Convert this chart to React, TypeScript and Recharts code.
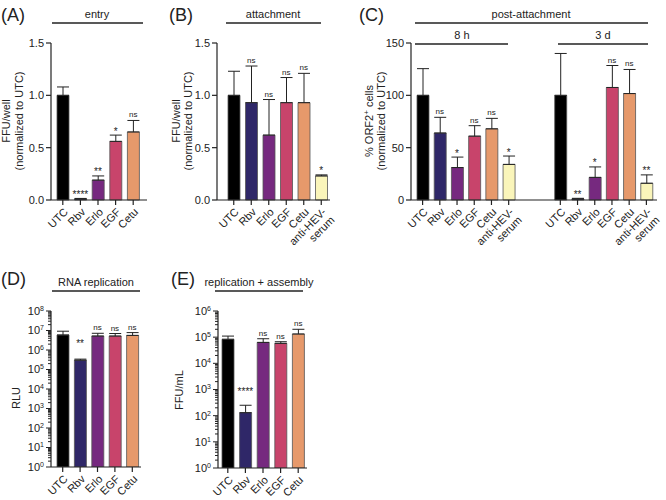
import React from 'react';
import {
  ComposedChart,
  Bar,
  Line,
  XAxis,
  YAxis,
  ErrorBar,
  Cell,
  LabelList
} from 'recharts';

const FONT = '"Liberation Sans", Arial, Helvetica, sans-serif';
const INK = '#222222';

const barColors: Record<string, string> = {
  UTC: '#000000',
  Rbv: '#2f2768',
  Erlo: '#76297f',
  EGF: '#c8446b',
  Cetu: '#e6996b',
  anti: '#faf5ba'
};

// (A) entry
const entryCats = ['UTC', 'Rbv', 'Erlo', 'EGF', 'Cetu'];
const entryMean = [1.0, 0.01, 0.19, 0.56, 0.65];
const entryErr = [0.08, 0.005, 0.04, 0.06, 0.11];
const entrySig = ['', '****', '**', '*', 'ns'];

// (B) attachment
const attCats = ['UTC', 'Rbv', 'Erlo', 'EGF', 'Cetu', 'anti-HEV-\nserum'];
const attMean = [1.0, 0.93, 0.62, 0.93, 0.93, 0.23];
const attErr = [0.23, 0.35, 0.34, 0.24, 0.28, 0.01];
const attSig = ['', 'ns', 'ns', 'ns', 'ns', '*'];

// (C) post-attachment, 8 h and 3 d
const postCats = ['UTC', 'Rbv', 'Erlo', 'EGF', 'Cetu', 'anti-HEV-\nserum'];
const post8hMean = [100, 64, 31, 61, 68, 34];
const post8hErr = [25.5, 15, 10, 10, 10, 8];
const post8hSig = ['', 'ns', '*', 'ns', 'ns', '*'];
const post3dMean = [100, 1, 21.6, 107.5, 101.7, 16];
const post3dErr = [40, 0.6, 10, 21, 23, 8];
const post3dSig = ['', '**', '*', 'ns', 'ns', '**'];

// (D) RNA replication
const replCats = ['UTC', 'Rbv', 'Erlo', 'EGF', 'Cetu'];
const replMean = [5.9e6, 3.0e5, 5.2e6, 5.2e6, 5.6e6];
const replErr = [3.3e6, 0.4e5, 2.0e6, 1.8e6, 2.2e6];
const replSig = ['', '**', 'ns', 'ns', 'ns'];

// (E) replication + assembly
const asmCats = ['UTC', 'Rbv', 'Erlo', 'EGF', 'Cetu'];
const asmMean = [8.3e4, 130, 6.3e4, 5.8e4, 1.32e5];
const asmErr = [2.7e4, 120, 2.4e4, 0.9e4, 0.68e5];
const asmSig = ['', '****', 'ns', 'ns', 'ns'];

type Row = {
  key: string;
  label: string;
  mean: number | null;
  err: [number, number] | null;
  top: number | null;
  sig: string;
  color: string;
};

const colorOf = (c: string) => barColors[c.startsWith('anti') ? 'anti' : c] || '#888';

function makeRows(prefix: string, cats: string[], mean: number[], err: number[], sig: string[]): Row[] {
  return cats.map((c, i) => ({
    key: `${prefix}-${i}`,
    label: c,
    mean: mean[i],
    err: [0, err[i]],
    top: mean[i] + err[i],
    sig: sig[i],
    color: colorOf(c)
  }));
}

const gapRow = (k: string): Row => ({ key: k, label: '', mean: null, err: null, top: null, sig: '', color: '#fff' });

const rowsA = makeRows('a', entryCats, entryMean, entryErr, entrySig);
const rowsB = makeRows('b', attCats, attMean, attErr, attSig);
const rowsC = [
  ...makeRows('c8', postCats, post8hMean, post8hErr, post8hSig),
  gapRow('gap1'),
  gapRow('gap2'),
  ...makeRows('c3', postCats, post3dMean, post3dErr, post3dSig)
];
const rowsD = makeRows('d', replCats, replMean, replErr, replSig);
const rowsE = makeRows('e', asmCats, asmMean, asmErr, asmSig);

const logTicks = (maxExp: number) => {
  const t: number[] = [];
  for (let e = 0; e < maxExp; e++) {
    for (let m = 1; m < 10; m++) t.push(m * Math.pow(10, e));
  }
  t.push(Math.pow(10, maxExp));
  return t;
};

const CatTick = (props: any) => {
  const { x, y, payload, rows } = props;
  const row: Row | undefined = rows[payload.index] || rows.find((r: Row) => r.key === payload.value);
  if (!row || !row.label) return null;
  const ay = y - 7;
  const lines = row.label.split('\n');
  const ax = x + 3;
  const ty = y + 3;
  return (
    <g>
      <line x1={x} x2={x} y1={ay} y2={ay + 5} stroke={INK} strokeWidth={1.2} />
      <text
        transform={`rotate(-45 ${ax} ${ty})`}
        x={ax}
        y={ty}
        textAnchor="end"
        fontSize={11}
        fontFamily={FONT}
        fill={INK}
      >
        {lines.map((l: string, i: number) => (
          <tspan key={i} x={ax} dy={i === 0 ? '0.35em' : '1.05em'}>
            {l}
          </tspan>
        ))}
      </text>
    </g>
  );
};

const LogTick = (props: any) => {
  const { x, y, payload } = props;
  const v = payload.value as number;
  const lg = Math.log10(v);
  const e = Math.round(lg);
  const major = Math.abs(lg - e) < 1e-6;
  const ax = x + 7;
  return (
    <g>
      <line x1={ax - (major ? 5 : 3)} x2={ax} y1={y} y2={y} stroke={INK} strokeWidth={1} />
      {major && (
        <text x={x} y={y} dy="0.35em" textAnchor="end" fontSize={11} fontFamily={FONT} fill={INK}>
          10
          <tspan dy={-4} fontSize={7}>
            {e}
          </tspan>
        </text>
      )}
    </g>
  );
};

// stars sit a little higher on the log panels
const makeSigLabel = (starLift: number) => (props: any) => {
  const { x, y, value } = props;
  if (!value || x == null || y == null || isNaN(y)) return null;
  const ns = value === 'ns';
  return (
    <text
      x={x}
      y={ns ? y - 3 : y - 0.5 - starLift}
      textAnchor="middle"
      fontSize={ns ? 8 : 10}
      fontFamily={FONT}
      fill={INK}
    >
      {value}
    </text>
  );
};

type PanelProps = {
  rows: Row[];
  left: number;
  top: number;
  width: number;
  height: number;
  marginTop: number;
  marginRight: number;
  yWidth: number;
  xHeight: number;
  pad: { left: number; right: number };
  domain: [number, number];
  ticks: number[];
  log?: boolean;
  starLift?: number;
};

const BarPanel: React.FC<PanelProps> = ({
  rows, left, top, width, height, marginTop, marginRight, yWidth, xHeight, pad, domain, ticks, log, starLift = 0
}) => (
  <div style={{ position: 'absolute', left, top, width, height }}>
    <ComposedChart
      width={width}
      height={height}
      data={rows}
      margin={{ top: marginTop, right: marginRight, bottom: 0, left: 0 }}
    >
      <XAxis
        dataKey="key"
        type="category"
        interval={0}
        height={xHeight}
        padding={pad}
        tickSize={5}
        tickMargin={2}
        tickLine={false}
        axisLine={{ stroke: INK, strokeWidth: 1.2 }}
        tick={<CatTick rows={rows} />}
      />
      {log ? (
        <YAxis
          scale="log"
          type="number"
          domain={domain}
          ticks={ticks}
          interval={0}
          allowDataOverflow
          width={yWidth}
          tickSize={5}
          tickMargin={2}
          tickLine={false}
          axisLine={{ stroke: INK, strokeWidth: 1.2 }}
          tick={<LogTick />}
        />
      ) : (
        <YAxis
          type="number"
          domain={domain}
          ticks={ticks}
          interval={0}
          width={yWidth}
          tickSize={5}
          tickMargin={2}
          tickLine={{ stroke: INK, strokeWidth: 1.2 }}
          axisLine={{ stroke: INK, strokeWidth: 1.2 }}
          tick={{ fontSize: 11, fill: INK, fontFamily: FONT }}
          tickFormatter={(v: number) => (domain[1] < 10 ? v.toFixed(1) : String(v))}
        />
      )}
      <Bar dataKey="mean" barSize={12} stroke="#555" strokeWidth={0.8} isAnimationActive={false}>
        {rows.map((r) => (
          <Cell key={r.key} fill={r.color} />
        ))}
        <ErrorBar dataKey="err" width={6} stroke={INK} strokeWidth={1} direction="y" />
      </Bar>
      <Line
        dataKey="top"
        stroke="none"
        dot={false}
        activeDot={false}
        isAnimationActive={false}
        legendType="none"
      >
        <LabelList dataKey="sig" content={makeSigLabel(starLift)} />
      </Line>
    </ComposedChart>
  </div>
);

const Title: React.FC<{ cx: number; y: number; x1: number; x2: number; ly: number; text: string }> = ({
  cx, y, x1, x2, ly, text
}) => (
  <g>
    <text x={cx} y={y} textAnchor="middle" fontSize={11} fontFamily={FONT} fill={INK}>
      {text}
    </text>
    <line x1={x1} x2={x2} y1={ly} y2={ly} stroke={INK} strokeWidth={1.3} />
  </g>
);

const VLabel: React.FC<{ x: number; y: number; children: React.ReactNode }> = ({ x, y, children }) => (
  <text
    x={x}
    y={y}
    transform={`rotate(-90 ${x} ${y})`}
    textAnchor="middle"
    fontSize={11}
    fontFamily={FONT}
    fill={INK}
  >
    {children}
  </text>
);

const Letter: React.FC<{ x: number; y: number; t: string }> = ({ x, y, t }) => (
  <text x={x} y={y} fontSize={18} fontFamily={FONT} fill={INK}>
    {t}
  </text>
);

export default function App() {
  return (
    <div
      style={{
        position: 'absolute',
        left: 0,
        top: 0,
        width: 666,
        height: 500,
        background: '#ffffff',
        overflow: 'hidden',
        fontFamily: FONT
      }}
    >
      <BarPanel
        rows={rowsA}
        left={0}
        top={0}
        width={160}
        height={265}
        marginTop={43}
        marginRight={13}
        yWidth={51}
        xHeight={65}
        pad={{ left: 3, right: 5 }}
        domain={[0, 1.5]}
        ticks={[0, 0.5, 1.0, 1.5]}
      />
      <BarPanel
        rows={rowsB}
        left={150}
        top={0}
        width={190}
        height={265}
        marginTop={43}
        marginRight={10}
        yWidth={67}
        xHeight={65}
        pad={{ left: 8, right: 0 }}
        domain={[0, 1.5]}
        ticks={[0, 0.5, 1.0, 1.5]}
      />
      <BarPanel
        rows={rowsC}
        left={340}
        top={0}
        width={326}
        height={265}
        marginTop={43}
        marginRight={9}
        yWidth={71}
        xHeight={65}
        pad={{ left: 3, right: 2 }}
        domain={[0, 150]}
        ticks={[0, 50, 100, 150]}
      />
      <BarPanel
        rows={rowsD}
        left={0}
        top={290}
        width={160}
        height={210}
        marginTop={21}
        marginRight={19}
        yWidth={51}
        xHeight={33}
        pad={{ left: 3, right: 0 }}
        domain={[1, 1e8]}
        ticks={logTicks(8)}
        log
        starLift={12}
      />
      <BarPanel
        rows={rowsE}
        left={150}
        top={290}
        width={170}
        height={210}
        marginTop={21}
        marginRight={13}
        yWidth={68}
        xHeight={32}
        pad={{ left: 1, right: 0 }}
        domain={[1, 1e6]}
        ticks={logTicks(6)}
        log
        starLift={10}
      />
      <svg
        width={666}
        height={500}
        style={{ position: 'absolute', left: 0, top: 0, pointerEvents: 'none' }}
      >
        <Letter x={1} y={21} t="(A)" />
        <Letter x={169} y={21} t="(B)" />
        <Letter x={359} y={21} t="(C)" />
        <Letter x={1} y={285} t="(D)" />
        <Letter x={171} y={285} t="(E)" />

        <Title cx={97} y={18} x1={52} x2={143} ly={23} text="entry" />
        <Title cx={273} y={18} x1={226} x2={321} ly={23} text="attachment" />
        <Title cx={531} y={18} x1={415} x2={648} ly={23} text="post-attachment" />
        <Title cx={462} y={39} x1={415} x2={508} ly={44} text="8 h" />
        <Title cx={603} y={39} x1={558} x2={648} ly={44} text="3 d" />
        <Title cx={96} y={286} x1={52} x2={140} ly={291} text="RNA replication" />
        <Title cx={259} y={286} x1={215} x2={303} ly={291} text="replication + assembly" />

        <VLabel x={10} y={121}>FFU/well</VLabel>
        <VLabel x={23} y={121}>(normalized to UTC)</VLabel>
        <VLabel x={180} y={121}>FFU/well</VLabel>
        <VLabel x={192} y={121}>(normalized to UTC)</VLabel>
        <VLabel x={373} y={121}>
          % ORF2
          <tspan dy={-4} fontSize={8}>+</tspan>
          <tspan dy={4}> cells</tspan>
        </VLabel>
        <VLabel x={385} y={121}>(normalized to UTC)</VLabel>
        <VLabel x={20} y={398}>RLU</VLabel>
        <VLabel x={183} y={390}>FFU/mL</VLabel>
      </svg>
    </div>
  );
}
